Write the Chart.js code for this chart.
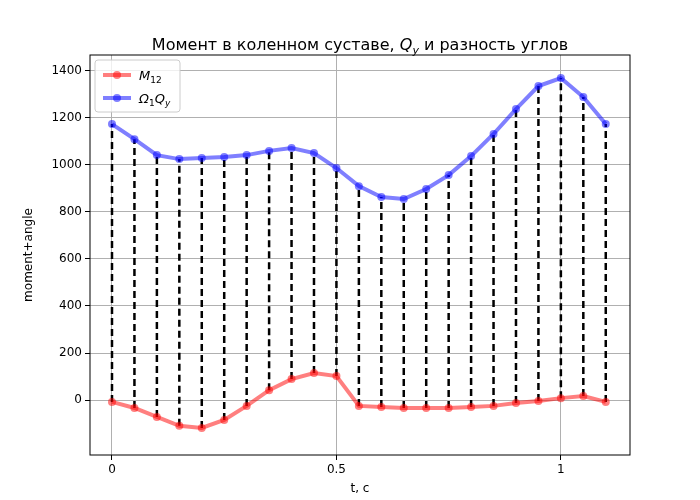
<!DOCTYPE html>
<html><head><meta charset="utf-8">
<script src="https://cdn.jsdelivr.net/npm/chart.js@4/dist/chart.umd.min.js"></script>
<style>body{margin:0;background:#fff}#w{width:700px;height:500px}</style>
</head><body><div id="w"><canvas id="c"></canvas></div>
<script>
const tVals=[0,0.05,0.1,0.15,0.2,0.25,0.3,0.35,0.4,0.45,0.5,0.55,0.6,0.65,0.7,0.75,0.8,0.85,0.9,0.95,1.0,1.05,1.1];
const blue=[1174,1110,1042,1025,1030,1034,1042,1060,1072,1051,987,910,864,855,898,957,1038,1132,1238,1336,1370,1289,1174];
const red=[-8,-34,-72,-110,-119,-85,-25,42,89,115,102,-25,-30,-34,-34,-34,-30,-25,-13,-4,8,17,-8];
const xTicks=[0,0.5,1];
const yTicks=[0,200,400,600,800,1000,1200,1400];
const F='DejaVu Sans';
const pts=a=>tVals.map((t,i)=>({x:t,y:a[i]}));
const overlay={id:'ov',
 beforeDatasetsDraw(ch){const c=ch.ctx,x=ch.scales.x,y=ch.scales.y;c.save();c.strokeStyle='#000';c.lineWidth=2.5;c.setLineDash([7,4]);
  tVals.forEach((t,i)=>{c.beginPath();c.moveTo(x.getPixelForValue(t),y.getPixelForValue(red[i]));c.lineTo(x.getPixelForValue(t),y.getPixelForValue(blue[i]));c.stroke();});c.restore();},
 afterDraw(ch){const c=ch.ctx,a=ch.chartArea;c.save();c.strokeStyle='#000';c.lineWidth=1;c.strokeRect(a.left,a.top,a.right-a.left,a.bottom-a.top);
  c.fillStyle='#000';c.textBaseline='alphabetic';
  const p1='Момент в коленном суставе, ',p3=' и разность углов';
  c.font='16px '+F;const w1=c.measureText(p1).width,w3=c.measureText(p3).width;
  c.font='italic 16px '+F;const wq=c.measureText('Q').width;c.font='italic 11px '+F;const wy=c.measureText('y').width;
  const tot=w1+wq+wy+w3;let sx=(a.left+a.right)/2-tot/2;const by=50;
  c.font='16px '+F;c.fillText(p1,sx,by);sx+=w1;c.font='italic 16px '+F;c.fillText('Q',sx,by);sx+=wq;
  c.font='italic 11px '+F;c.fillText('y',sx,by+4);sx+=wy;c.font='16px '+F;c.fillText(p3,sx,by);
  const lx=a.left+5,ly=a.top+5;c.fillStyle='rgba(255,255,255,0.8)';c.strokeStyle='#ccc';c.beginPath();c.roundRect(lx,ly,85,52,3);c.fill();c.stroke();
  const items=[['rgba(255,0,0,0.5)','M','12',''],['rgba(0,0,255,0.5)','Ω','1','Q']];
  items.forEach((it,k)=>{const yy=ly+15+k*23;c.strokeStyle=it[0];c.lineWidth=4;c.beginPath();c.moveTo(lx+8,yy);c.lineTo(lx+36,yy);c.stroke();
   c.fillStyle=it[0];c.beginPath();c.arc(lx+22,yy,4,0,7);c.fill();
   c.fillStyle='#000';let px=lx+44;c.font='italic 13px '+F;c.fillText(it[1],px,yy+5);px+=c.measureText(it[1]).width;
   c.font='9px '+F;c.fillText(it[2],px,yy+8);px+=c.measureText(it[2]).width;
   if(it[3]){c.font='italic 13px '+F;c.fillText('Q',px,yy+5);px+=c.measureText('Q').width;c.font='italic 9px '+F;c.fillText('y',px,yy+8);}});
  c.restore();}};
new Chart(document.getElementById('c'),{type:'scatter',
 data:{datasets:[
  {data:pts(red),showLine:true,borderColor:'rgba(255,0,0,0.5)',backgroundColor:'rgba(255,0,0,0.5)',borderWidth:4,pointRadius:4,pointBorderWidth:0},
  {data:pts(blue),showLine:true,borderColor:'rgba(0,0,255,0.5)',backgroundColor:'rgba(0,0,255,0.5)',borderWidth:4,pointRadius:4,pointBorderWidth:0}]},
 options:{responsive:true,maintainAspectRatio:false,animation:false,
  layout:{padding:{top:55,right:70,left:18,bottom:0}},
  plugins:{legend:{display:false},tooltip:{enabled:false}},
  scales:{
   x:{type:'linear',min:-0.049,max:1.154,afterBuildTicks:s=>{s.ticks=xTicks.map(v=>({value:v}));},
    ticks:{color:'#000',font:{family:F,size:12},callback:v=>String(v)},grid:{color:'#b0b0b0',tickColor:'#000',tickLength:5},border:{display:false},
    title:{display:true,text:'t, c',color:'#000',font:{family:F,size:12},padding:{top:2}},afterFit:s=>{s.height=45;}},
   y:{min:-234,max:1468,afterBuildTicks:s=>{s.ticks=yTicks.map(v=>({value:v}));},
    ticks:{color:'#000',font:{family:F,size:12},callback:v=>String(v)},grid:{color:'#b0b0b0',tickColor:'#000',tickLength:5},border:{display:false},
    title:{display:true,text:'moment+angle',color:'#000',font:{family:F,size:12}},afterFit:s=>{s.width=72;}}}},
 plugins:[overlay]});
</script></body></html>
